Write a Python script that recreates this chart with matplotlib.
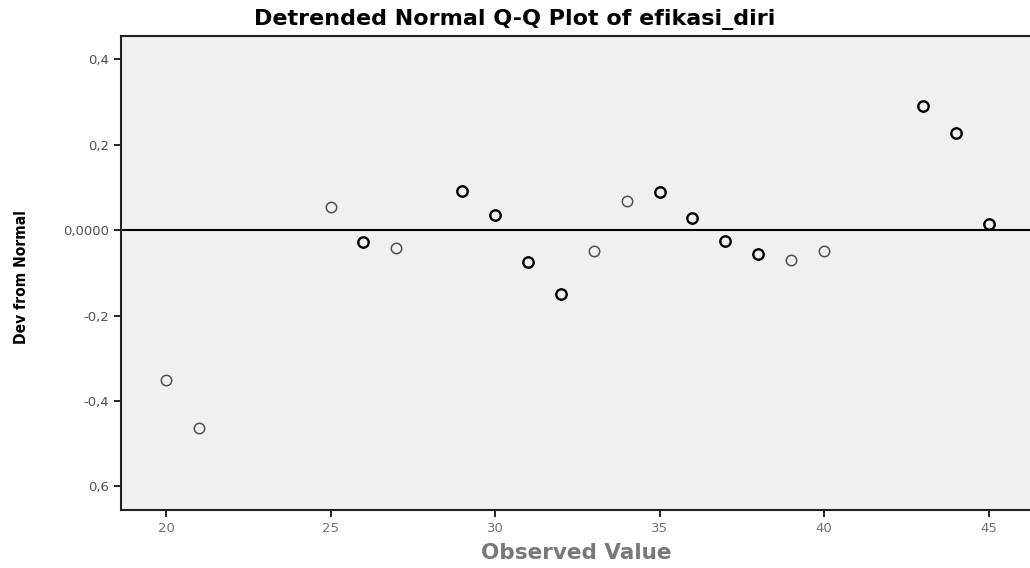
import matplotlib
matplotlib.use("Agg")
import matplotlib.pyplot as plt

# Data
observed = [20, 21, 25, 26, 27, 29, 30, 31, 32, 33, 34, 35, 36, 37, 38, 39, 40, 43, 44, 45]
dev_from_normal = [-0.350, -0.462, 0.053, -0.029, -0.041, 0.092, 0.036, -0.074, -0.149, -0.050,
                   0.067, 0.088, 0.029, -0.025, -0.057, -0.069, -0.048, 0.291, 0.226, 0.013]
x_ticks = [20, 25, 30, 35, 40, 45]
y_ticks = [0.4, 0.2, 0.0, -0.2, -0.4, -0.6]
y_tick_labels = ["0,4", "0,2", "0,0000", "-0,2", "-0,4", "0,6"]
title = "Detrended Normal Q-Q Plot of efikasi_diri"
xlabel = "Observed Value"
ylabel = "Dev from Normal"

# marker edge styles (thin grey vs bold black)
thin = {20, 21, 25, 27, 33, 34, 39, 40}

fig = plt.figure(figsize=(10.30, 5.68), dpi=100)
fig.patch.set_facecolor("white")
ax = fig.add_axes([121/1030, 58/568, 1 - 121/1030, (510-36)/568])
ax.set_facecolor("#f0f0f0")

ax.axhline(0, color="black", lw=1.5, zorder=1)

for xv, yv in zip(observed, dev_from_normal):
    if xv in thin:
        ec, lw = "#505050", 1.1
    else:
        ec, lw = "black", 1.7
    ax.plot([xv], [yv], marker="o", ms=7.5, mfc="none", mec=ec, mew=lw,
            linestyle="none", zorder=3)

ax.set_xlim(18.63, 46.26)
ax.set_ylim(-0.655, 0.454)

ax.set_xticks(x_ticks)
ax.set_xticklabels([str(t) for t in x_ticks], fontsize=9.5, color="#707070",
                   family="DejaVu Sans")
ax.set_yticks(y_ticks)
ax.set_yticklabels(y_tick_labels, fontsize=9.5, color="#505050", family="DejaVu Sans")
ax.tick_params(axis="both", direction="out", length=5, width=1.2, color="black")

for s in ["left", "bottom", "top"]:
    ax.spines[s].set_linewidth(1.5)
    ax.spines[s].set_color("#202020")
ax.spines["right"].set_visible(False)

fig.text(0.5, 1 - 20/568, title, ha="center", va="center", fontsize=16,
         fontweight="bold", family=["DejaVu Sans"])
fig.text(576/1030, 1 - 553/568, xlabel, ha="center", va="center", fontsize=15.5,
         fontweight="bold", color="#787878", family=["DejaVu Sans"])
fig.text(22/1030, 1 - 277/568, ylabel, ha="center", va="center", rotation=90,
         fontsize=11.2, fontweight="bold",
         family=["DejaVu Sans"], fontstretch="condensed")

fig.savefig("out.png", dpi=100)
